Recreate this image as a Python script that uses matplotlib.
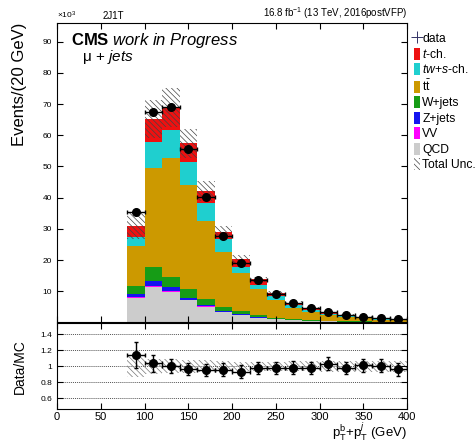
import matplotlib
matplotlib.use("Agg")
from matplotlib import pyplot as plt
from matplotlib.patches import Patch
from matplotlib.lines import Line2D
import numpy as np

plt.rcParams["font.family"] = ["Liberation Sans", "DejaVu Sans"]
plt.rcParams["mathtext.fontset"] = "custom"
plt.rcParams["mathtext.rm"] = "Liberation Sans"
plt.rcParams["mathtext.it"] = "Liberation Sans:italic"
plt.rcParams["mathtext.bf"] = "Liberation Sans:bold"
plt.rcParams["hatch.linewidth"] = 0.5

# bins of pT(b)+pT(j), 20 GeV wide
bin_edges = [80, 100, 120, 140, 160, 180, 200, 220, 240, 260, 280, 300, 320, 340, 360, 380, 400]

# stacked backgrounds (x10^3 events), bottom to top
qcd = [8.0, 11.5, 9.8, 7.1, 5.1, 3.4, 2.3, 1.5, 1.0, 0.7, 0.5, 0.35, 0.25, 0.2, 0.15, 0.1]
vv = [0.15, 0.25, 0.2, 0.15, 0.1, 0.08, 0.05, 0.04, 0.03, 0.02, 0.02, 0.01, 0.01, 0.01, 0.01, 0.01]
zjets = [0.85, 1.55, 1.3, 0.75, 0.4, 0.32, 0.35, 0.36, 0.17, 0.13, 0.08, 0.09, 0.04, 0.04, 0.04, 0.04]
wjets = [2.8, 4.4, 3.3, 2.7, 1.9, 1.3, 1.1, 0.5, 0.3, 0.25, 0.2, 0.15, 0.15, 0.1, 0.05, 0.05]
ttbar = [12.6, 31.8, 38.0, 33.4, 25.1, 17.6, 12.0, 8.2, 5.7, 3.7, 2.7, 1.8, 1.35, 0.95, 0.7, 0.6]
tw_s = [3.0, 8.3, 9.1, 7.4, 5.6, 4.0, 2.1, 1.4, 1.3, 0.8, 0.6, 0.4, 0.3, 0.25, 0.15, 0.1]
t_ch = [3.6, 7.4, 7.3, 5.9, 4.0, 2.3, 2.5, 1.8, 0.9, 0.8, 0.5, 0.4, 0.35, 0.3, 0.2, 0.15]

# total uncertainty on the stack (x10^3)
total_unc = [4.2, 6.1, 6.2, 4.6, 3.2, 1.9, 1.2, 0.75, 0.55, 0.4, 0.3, 0.22, 0.17, 0.13, 0.09, 0.07]

# data (x10^3) and ratio error bars
data = [35.4, 67.5, 69.0, 55.5, 40.2, 27.8, 19.0, 13.5, 9.2, 6.3, 4.5, 3.3, 2.4, 1.87, 1.31, 1.01]
ratio_err = [0.16, 0.11, 0.09, 0.08, 0.08, 0.08, 0.08, 0.08, 0.08, 0.08, 0.08, 0.08, 0.08, 0.08, 0.08, 0.08]

components = [
    ("QCD", qcd, "#cccccc"),
    ("VV", vv, "#ff00ff"),
    ("Z+jets", zjets, "#1414f0"),
    ("W+jets", wjets, "#169c16"),
    (r"$\mathrm{t\bar{t}}$", ttbar, "#cc9900"),
    (r"$tw$+$s$-ch.", tw_s, "#1fcfcf"),
    (r"$t$-ch.", t_ch, "#ee1111"),
]

edges = np.array(bin_edges)
left = edges[:-1]
width = np.diff(edges)
centers = left + width / 2

fig = plt.figure(figsize=(4.77, 4.44), dpi=100)
ax = fig.add_axes([0.1195, 0.2737, 0.734, 0.6745])
rax = fig.add_axes([0.1195, 0.0782, 0.734, 0.1937])

bottom = np.zeros(len(left))
for name, vals, color in components:
    vals = np.array(vals)
    ax.bar(left, vals, width=width, bottom=bottom, align="edge", color=color, linewidth=0)
    bottom += vals
total = bottom

unc = np.array(total_unc)
ax.bar(left, 2 * unc, width=width, bottom=total - unc, align="edge", fill=False,
       hatch="\\\\\\\\\\\\", edgecolor="#444444", linewidth=0)

ax.errorbar(centers, data, xerr=width / 2, yerr=0.3, fmt="o", color="black",
            markersize=5.5, capsize=1.5, elinewidth=1, capthick=1)

ax.set_xlim(0, 400)
ax.set_ylim(0, 96)
ax.set_yticks(range(10, 100, 10))
ax.set_xticks(range(0, 401, 50))
ax.tick_params(direction="in", top=True, right=True, labelbottom=False, labelsize=6,
               length=4, width=0.8)
ax.set_ylabel("Events/(20 GeV)", fontsize=12, loc="top")
ax.yaxis.set_label_coords(-0.085, 1.0)

ax.text(0.0, 1.006, r"$\times10^{3}$", transform=ax.transAxes, fontsize=6, va="bottom", ha="left")
ax.text(0.13, 1.008, "2J1T", transform=ax.transAxes, fontsize=7, va="bottom", ha="left")
ax.text(1.0, 1.008, r"16.8 fb$^{-1}$ (13 TeV, 2016postVFP)", transform=ax.transAxes,
        fontsize=7, va="bottom", ha="right")
ax.text(0.04, 0.927, r"$\mathbf{CMS}$ $\mathit{work\ in\ Progress}$", transform=ax.transAxes,
        fontsize=12, va="baseline", ha="left")
ax.text(0.071, 0.872, r"$\mathrm{\mu}$ + $\mathit{jets}$", transform=ax.transAxes,
        fontsize=11, va="baseline", ha="left")

handles = [Line2D([], [], color="#333366", marker="+", linestyle="none", markersize=8, mew=0.7)]
labels = ["data"]
for name, vals, color in reversed(components):
    handles.append(Patch(facecolor=color, edgecolor="none"))
    labels.append(name)
handles.append(Patch(facecolor="white", edgecolor="#444444", hatch="\\\\\\\\\\\\", linewidth=0))
labels.append("Total Unc.")
ax.legend(handles, labels, loc="upper left", bbox_to_anchor=(1.012, 0.978), frameon=False,
          fontsize=8.7, handlelength=0.5, handleheight=1.15, handletextpad=0.2,
          labelspacing=0.2, borderpad=0.2, borderaxespad=0)

# ratio panel
ratio = np.array(data) / total
rel_unc = unc / total
rax.bar(left, 2 * rel_unc, width=width, bottom=1 - rel_unc, align="edge", fill=False,
        hatch="\\\\\\\\\\\\", edgecolor="#777777", linewidth=0)
for yv in [0.6, 0.8, 1.0, 1.2, 1.4]:
    rax.axhline(yv, color="#555555", linestyle=(0, (1, 1)), linewidth=0.7, zorder=0)
rax.errorbar(centers, ratio, xerr=width / 2, yerr=ratio_err, fmt="o", color="black",
             markersize=5.5, capsize=1.5, elinewidth=1, capthick=1)
rax.set_xlim(0, 400)
rax.set_ylim(0.46, 1.54)
rax.set_yticks([0.6, 0.8, 1.0, 1.2, 1.4])
rax.set_yticklabels(["0.6", "0.8", "1", "1.2", "1.4"])
rax.set_xticks(range(0, 401, 50))
rax.tick_params(axis="y", direction="in", right=True, labelsize=6, length=4, width=0.8)
rax.tick_params(axis="x", direction="in", top=True, labelsize=8, length=4, width=0.8, pad=2)
rax.set_ylabel("Data/MC", fontsize=10)
rax.yaxis.set_label_coords(-0.085, 0.5)

fig.text(407 / 477, 1 - 443 / 444, r"$\mathrm{p}_{\mathrm{T}}^{\mathrm{b}}$+$\mathrm{p}_{\mathrm{T}}^{j}$ (GeV)",
         fontsize=9.5, ha="right", va="bottom")

fig.savefig("out.png", dpi=100)
